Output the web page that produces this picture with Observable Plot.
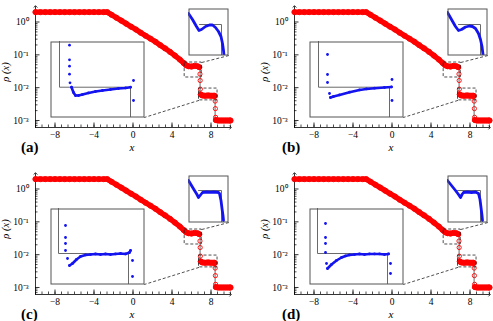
<!DOCTYPE html>
<html><head><meta charset="utf-8">
<script src="https://cdn.jsdelivr.net/npm/d3@7"></script>
<script src="https://cdn.jsdelivr.net/npm/@observablehq/plot@0.6"></script>
<style>
html,body{margin:0;padding:0;background:#fff;}
#wrap{position:relative;width:493px;height:321px;overflow:hidden;font-family:"Liberation Serif","Times New Roman",serif;color:#000;}
.box{position:absolute;}
.box svg{display:block;max-width:none;}
.box svg text{font-family:"Liberation Serif","Times New Roman",serif;}
.plab{position:absolute;font-weight:bold;font-size:15px;line-height:1;}
.xlab{position:absolute;font-style:italic;font-size:11px;line-height:1;transform:translate(-50%,-50%);}
.ylab{position:absolute;font-style:italic;font-size:10.5px;line-height:1;white-space:nowrap;transform:translate(-50%,-50%) rotate(-90deg);}
</style></head><body><div id="wrap"></div>
<script>
// ---------- main reference curve (red markers) ----------
const band1X = [-10,-9.5,-9,-8.5,-8,-7.5,-7,-6.5,-6,-5.5,-5,-4.5,-4,-3.5,-3,-2.65,-2.2,-1.7,-1.2,-0.7,-0.2,0.3,0.8,1.3,1.8,2.3,2.8,3.3,3.8,4.3,4.8,5.2,5.45,5.7,6.0,6.3,6.6,6.8];
const band1Rho = [2,2,2,2,2,2,2,2,2,2,2,2,2,2,2,2,1.66,1.35,1.10,0.89,0.72,0.59,0.47,0.38,0.31,0.25,0.197,0.157,0.123,0.095,0.072,0.056,0.048,0.045,0.044,0.046,0.045,0.042];
const band2X = [6.95,7.1,7.3,7.5,7.7,7.9,8.1,8.3,8.38];
const band2Rho = [0.0062,0.0058,0.0057,0.0057,0.0058,0.0057,0.0057,0.0057,0.0056];
const band3X = [8.5,8.7,8.9,9.1,9.3,9.5,9.7,9.9,10];
const band3Rho = [0.00103,0.001,0.001,0.001,0.001,0.001,0.001,0.001,0.001];
const jumpX = [6.87,6.89,6.91,8.43,8.45,8.47];
const jumpRho = [0.026,0.0165,0.0090,0.0039,0.0023,0.00125];
// exact solution (gray)
const exactX = [-10,-2.65,-1.2,0.3,1.8,3.3,4.8,5.45,6.88,6.88,8.42,8.42,10];
const exactRho = [2,2,1.10,0.59,0.31,0.157,0.072,0.045,0.045,0.0057,0.0057,0.001,0.001];
// zoom boxes (dashed) and connectors
const dashX1 = [5.3,6.77], dashX2 = [7.05,8.67], dashY1 = [0.0204,0.0041], dashY2 = [0.0584,0.0094];
const linkX1 = [7.05,6.77], linkY1 = [0.0584,0.0041], linkX2 = [9.85,1.15], linkY2 = [0.0955,0.00123];
// inset frames in main-plot data coordinates
const bigInsetX = [-8.5,1.15], bigInsetY = [0.00123,0.255];
const smallInsetX = [5.74,9.85], smallInsetY = [0.0955,2.58];
// inset domains
const bigDomX = [6.8,8.68], bigDomY = [0.0040,0.00932];
const smDomX = [5.6,7.2], smDomY = [0.020,0.0576];
// axis ticks
const xMajor = [-8,-4,0,4,8];
const yMajor = [1e-3,1e-2,1e-1,1];

// ---------- big insets (blue numerical solution) ----------
const aBigX = [7.22,7.26,7.30,7.36,7.44,7.56,7.70,7.84,8.00,8.16,8.30,8.40];
const aBigY = [0.00612,0.00575,0.00554,0.00554,0.00561,0.00572,0.00582,0.00589,0.00596,0.00603,0.00607,0.00612];
const aPtX = [7.18,7.18,7.18,7.18,7.19,8.46,8.46];
const aPtY = [0.00906,0.00804,0.00759,0.00703,0.00643,0.00659,0.00519];
const bBigX = [7.22,7.28,7.40,7.60,7.80,7.94,8.10,8.30,8.44];
const bBigY = [0.00540,0.00547,0.00558,0.00577,0.00593,0.00600,0.00605,0.00610,0.00614];
const bPtX = [7.16,7.16,7.16,7.20,8.45,8.45];
const bPtY = [0.00841,0.00701,0.00645,0.00568,0.00666,0.00519];
const cBigX = [7.18,7.24,7.32,7.40,7.50,7.60,7.70,7.80,7.90,8.00,8.10,8.20,8.30,8.38,8.40];
const cBigY = [0.00533,0.00547,0.00575,0.00596,0.00607,0.00610,0.00614,0.00610,0.00614,0.00610,0.00614,0.00617,0.00614,0.00624,0.00638];
const cPtX = [7.10,7.10,7.10,7.10,7.14,8.44,8.44];
const cPtY = [0.00813,0.00729,0.00687,0.00638,0.00582,0.00568,0.00456];
const dBigX = [7.16,7.24,7.34,7.44,7.52,7.60,7.70,7.80,7.90,8.00,8.10,8.20,8.30,8.38];
const dBigY = [0.00512,0.00540,0.00568,0.00589,0.00600,0.00607,0.00610,0.00614,0.00610,0.00614,0.00614,0.00614,0.00610,0.00614];
const dPtX = [7.12,7.12,7.12,7.12,7.14,8.42,8.42];
const dPtY = [0.00827,0.00729,0.00687,0.00624,0.00547,0.00547,0.00477];
const abBigExX = [6.7,6.98,6.98,8.40,8.40,8.8];
const abBigExY = [0.02,0.02,0.00612,0.00612,0.001,0.001];
const cdBigExX = [6.7,6.96,6.96,8.36,8.36,8.8];
const cdBigExY = [0.02,0.02,0.00617,0.00617,0.001,0.001];

// ---------- small insets ----------
const aSmX = [5.60,5.76,5.92,6.02,6.12,6.28,6.44,6.56,6.68,6.80,6.90,6.96,7.00,7.02];
const aSmY = [0.0536,0.0488,0.0432,0.0400,0.0408,0.0432,0.0444,0.0444,0.0424,0.0392,0.0352,0.0296,0.0240,0.0200];
const bSmX = [5.60,5.76,5.92,6.04,6.16,6.32,6.48,6.60,6.72,6.84,6.92,6.98,7.02];
const bSmY = [0.0544,0.0488,0.0432,0.0400,0.0408,0.0428,0.0436,0.0432,0.0416,0.0376,0.0328,0.0272,0.0208];
const cSmX = [5.60,5.72,5.84,5.94,6.00,6.08,6.16,6.32,6.48,6.64,6.80,6.84,6.90,6.94,6.98,7.00];
const cSmY = [0.0536,0.0496,0.0456,0.0424,0.0400,0.0420,0.0440,0.0444,0.0442,0.0444,0.0440,0.0432,0.0376,0.0312,0.0256,0.0216];
const dSmX = [5.60,5.76,5.92,6.04,6.12,6.18,6.24,6.40,6.56,6.72,6.84,6.90,6.94,6.98,7.00];
const dSmY = [0.0536,0.0496,0.0456,0.0424,0.0400,0.0424,0.0440,0.0444,0.0440,0.0444,0.0432,0.0384,0.0320,0.0256,0.0216];
const abSmExX = [6.04,6.92,6.92], abSmExY = [0.0448,0.0448,0.005];
const cdSmExX = [6.00,6.92,6.92], cdSmExY = [0.0456,0.0456,0.005];

// ---------- layout ----------
const panelIds = ["a","b","c","d"];
const panelLeft = [0,259,0,259], panelTop = [0,0,167,167];
const panelW = [250,234,250,234], panelH = [160,160,154,154];
const ylabY = [72,72,62,62];
const bigCurveX = [aBigX,bBigX,cBigX,dBigX], bigCurveY = [aBigY,bBigY,cBigY,dBigY];
const bigPtX = [aPtX,bPtX,cPtX,dPtX], bigPtY = [aPtY,bPtY,cPtY,dPtY];
const bigExX = [abBigExX,abBigExX,cdBigExX,cdBigExX], bigExY = [abBigExY,abBigExY,cdBigExY,cdBigExY];
const smCurveX = [aSmX,bSmX,cSmX,dSmX], smCurveY = [aSmY,bSmY,cSmY,dSmY];
const smExX = [abSmExX,abSmExX,cdSmExX,cdSmExX], smExY = [abSmExY,abSmExY,cdSmExY,cdSmExY];

const RED = "#ff0000", BLUE = "#1414f0", GRAY = "#6a6a6a";
const FONT = "'Liberation Serif','Times New Roman',serif";
const xDomain = [-10,10], yDomain = [0.000612,2.965];
const plotL = 35, plotR = 230, plotT = 6, plotB = 127;
const xMinor = d3.range(0,31).map(i => -10 + i*2/3);
const yMinor = [];
for (let k=-4;k<=0;k++) for (let m=2;m<=9;m++){const v=m*Math.pow(10,k); if(v>yDomain[0]&&v<yDomain[1]) yMinor.push(v);}
const supMap = {"-":"\u207B","0":"\u2070","1":"\u00B9","2":"\u00B2","3":"\u00B3"};
const yFmt = d => "10" + String(Math.round(Math.log10(d))).split("").map(c=>supMap[c]).join("");
const xFmt = d => d<0 ? "\u2212"+(-d) : String(d);
const pts = (xs, ys, s) => xs.map((x,j)=>({x, y:ys[j], s}));

function px(plot,k,v){
  const s = plot.scale(k);
  if (s && typeof s.apply === "function") return s.apply(v);
  const sc = (s.type==="log"?d3.scaleLog():d3.scaleLinear()).domain(s.domain).range(s.range);
  return sc(v);
}

function mainPlot(i){
  const W = panelW[i], H = panelH[i];
  const plotW = plotR-plotL, plotH = plotB-plotT;
  const band = [...pts(band1X,band1Rho,1), ...pts(band2X,band2Rho,2), ...pts(band3X,band3Rho,3)];
  const rects = dashX1.map((x1,j)=>({x1, x2:dashX2[j], y1:dashY1[j], y2:dashY2[j]}));
  const links = linkX1.map((x1,j)=>({x1, y1:linkY1[j], x2:linkX2[j], y2:linkY2[j]}));
  return Plot.plot({
    width:W, height:H, marginLeft:plotL, marginRight:W-plotR, marginTop:plotT, marginBottom:H-plotB,
    x:{domain:xDomain}, y:{type:"log", domain:yDomain},
    style:{fontFamily:FONT, fontSize:"9.5px", color:"#000", background:"transparent", overflow:"visible"},
    marks:[
      Plot.axisX({ticks:xMajor, tickSize:0, tickPadding:4, tickFormat:xFmt, label:null, fontFamily:FONT}),
      Plot.axisY({ticks:yMajor, tickSize:0, tickPadding:7, tickFormat:yFmt, label:null, fontFamily:FONT}),
      Plot.tickX(xMinor, {x:d=>d, insetTop:plotH-2.5, stroke:"#000", strokeWidth:0.7}),
      Plot.tickX(xMajor, {x:d=>d, insetTop:plotH-4.5, stroke:"#000", strokeWidth:0.8}),
      Plot.tickY(yMinor, {y:d=>d, insetRight:plotW-2.5, stroke:"#000", strokeWidth:0.7}),
      Plot.tickY(yMajor, {y:d=>d, insetRight:plotW-4.5, stroke:"#000", strokeWidth:0.8}),
      Plot.line([[xDomain[0],yDomain[0]],[xDomain[1],yDomain[0]]], {markerEnd:"arrow", stroke:"#000", strokeWidth:0.8}),
      Plot.line([[xDomain[0],yDomain[0]],[xDomain[0],yDomain[1]]], {markerEnd:"arrow", stroke:"#000", strokeWidth:0.8}),
      Plot.line(pts(exactX,exactRho,0), {x:"x", y:"y", stroke:GRAY, strokeWidth:1}),
      Plot.line(band, {x:"x", y:"y", z:"s", stroke:RED, strokeWidth:5.4}),
      Plot.dot(band, {x:"x", y:"y", r:2.6, stroke:RED, fill:"none", strokeWidth:1}),
      Plot.dot(pts(jumpX,jumpRho,0), {x:"x", y:"y", r:2.1, stroke:RED, fill:"none", strokeWidth:0.9}),
      Plot.rect(rects, {x1:"x1", x2:"x2", y1:"y1", y2:"y2", fill:"none", stroke:"#222", strokeWidth:0.8, strokeDasharray:"3,2"}),
      Plot.link(links, {x1:"x1", y1:"y1", x2:"x2", y2:"y2", stroke:"#222", strokeWidth:0.8, strokeDasharray:"3,2"})
    ]
  });
}

function inset(w,h,dx,dy,marks){
  return Plot.plot({
    width:w, height:h, margin:0,
    x:{domain:dx, axis:null}, y:{domain:dy, axis:null},
    style:{background:"#fff", overflow:"visible"},
    marks:[...marks, Plot.frame({stroke:"#555", strokeWidth:1, inset:0.5})]
  });
}

const wrap = document.getElementById("wrap");
function place(el, left, top, w, h){
  const d = document.createElement("div");
  d.className = "box";
  d.style.left = left+"px"; d.style.top = top+"px";
  if (w) d.style.width = w+"px";
  if (h) d.style.height = h+"px";
  d.appendChild(el); wrap.appendChild(d); return d;
}
function label(cls, text, left, top){
  const d = document.createElement("div");
  d.className = cls; d.textContent = text;
  d.style.left = left+"px"; d.style.top = top+"px";
  wrap.appendChild(d);
}

for (let i=0;i<4;i++){
  const L0 = panelLeft[i], T0 = panelTop[i];
  const mp = mainPlot(i);
  place(mp, L0, T0, panelW[i], panelH[i]);

  // big inset
  const bl = L0 + px(mp,"x",bigInsetX[0]), br = L0 + px(mp,"x",bigInsetX[1]);
  const bt = T0 + px(mp,"y",bigInsetY[1]), bb = T0 + px(mp,"y",bigInsetY[0]);
  const bw = Math.round(br-bl), bh = Math.round(bb-bt);
  const big = inset(bw, bh, bigDomX, bigDomY, [
    Plot.line(pts(bigExX[i],bigExY[i],0), {x:"x", y:"y", stroke:GRAY, strokeWidth:1, clip:true}),
    Plot.line(pts(bigCurveX[i],bigCurveY[i],0), {x:"x", y:"y", stroke:BLUE, strokeWidth:2.6, clip:true}),
    Plot.dot(pts(bigCurveX[i],bigCurveY[i],0), {x:"x", y:"y", r:1.4, fill:BLUE, clip:true}),
    Plot.dot(pts(bigPtX[i],bigPtY[i],0), {x:"x", y:"y", r:1.4, fill:BLUE, clip:true})
  ]);
  place(big, Math.round(bl), Math.round(bt), bw, bh);

  // small inset
  const sl = L0 + px(mp,"x",smallInsetX[0]), sr = L0 + px(mp,"x",smallInsetX[1]);
  const st = T0 + px(mp,"y",smallInsetY[1]), sb = T0 + px(mp,"y",smallInsetY[0]);
  const sw = Math.round(sr-sl), sh = Math.round(sb-st);
  const sm = inset(sw, sh, smDomX, smDomY, [
    Plot.line(pts(smExX[i],smExY[i],0), {x:"x", y:"y", stroke:GRAY, strokeWidth:1, clip:true}),
    Plot.line(pts(smCurveX[i],smCurveY[i],0), {x:"x", y:"y", stroke:BLUE, strokeWidth:2.8, clip:true})
  ]);
  place(sm, Math.round(sl), Math.round(st), sw, sh);

  // labels
  label("xlab", "x", L0 + (plotL+plotR)/2 - 0.5, T0 + 147);
  label("ylab", "\u03C1 (x)", L0 + 6, T0 + ylabY[i]);
  label("plab", "(" + panelIds[i] + ")", L0 + (i%2===0 ? 21 : 23), T0 + 140);
}
</script></body></html>
